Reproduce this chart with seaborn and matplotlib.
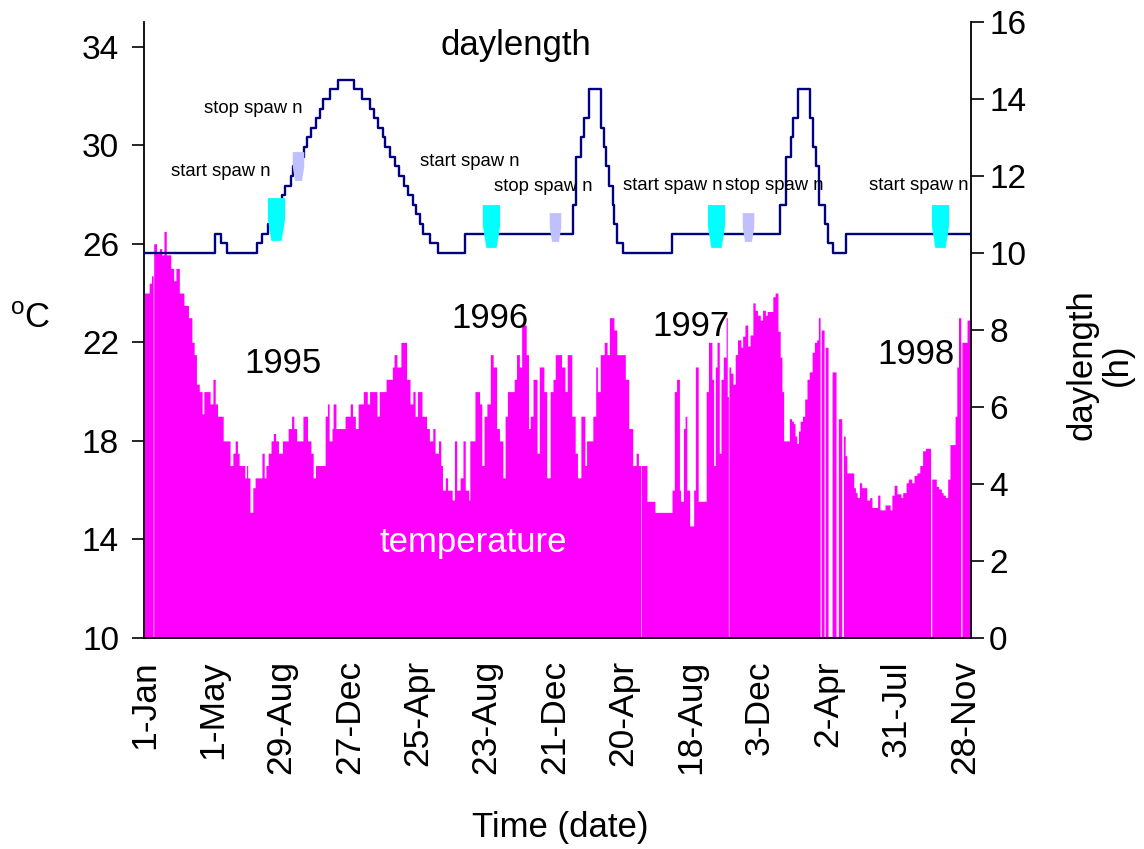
import numpy as np
import pandas as pd
import matplotlib
matplotlib.use("Agg")
import matplotlib.pyplot as plt
from matplotlib.path import Path
import seaborn as sns

# ---------------------------------------------------------------------------
# Water temperature (degC), stored as runs: first day index of each run and
# the temperature held from that day on (0 = no record for that day).
# ---------------------------------------------------------------------------
temp_run_start = [
    # 1995
    0, 9, 13, 16, 17, 22, 27, 31, 35, 39, 47, 52, 56, 62, 70, 78, 84, 88, 92,
    97, 102, 105, 116, 121, 125, 129, 139, 151, 156, 160, 164, 167, 177, 180,
    182, 186, 191, 195, 207, 211, 214, 218, 223, 227, 231, 236, 243, 253, 259,
    263, 268, 279, 287, 293, 297, 301, 318, 322, 325, 330, 332, 337, 353,
    # 1996
    362, 366, 371, 376, 385, 392, 396, 409, 413, 425, 436, 439, 444, 451, 461,
    467, 472, 476, 480, 488, 496, 501, 507, 511, 517, 521, 524, 529, 533, 541,
    545, 549, 555, 560, 564, 570, 572, 581, 589, 593, 597, 602, 608, 613, 619,
    624, 630, 634, 638, 650, 654, 659, 663, 671, 675, 678, 683, 690, 694, 702,
    707, 713, 718,
    # 1997
    722, 733, 739, 743, 751, 757, 761, 767, 774, 777, 788, 793, 796, 801, 808,
    813, 817, 825, 830, 845, 851, 858, 864, 868, 872, 873, 883, 897, 927, 931,
    935, 940, 942, 947, 950, 953, 958, 965, 968, 973, 987, 991, 997, 1000,
    1003, 1006, 1010, 1013, 1017, 1022, 1024, 1026, 1027, 1030, 1034, 1038,
    1042, 1048, 1051, 1055, 1060, 1064, 1069, 1073, 1077,
    # 1998
    1082, 1086, 1091, 1094, 1104, 1108, 1113, 1117, 1120, 1123, 1133, 1137,
    1140, 1143, 1146, 1149, 1152, 1156, 1160, 1164, 1168, 1173, 1177, 1181,
    1184, 1187, 1189, 1194, 1196, 1201, 1208, 1215, 1219, 1225, 1228,
    1231, 1234, 1246, 1249, 1252, 1256, 1260, 1269, 1274, 1278, 1288, 1292,
    1301, 1310, 1313, 1317, 1322, 1329, 1332, 1338, 1342, 1348, 1352, 1357,
    1362, 1367, 1372, 1381, 1383, 1391, 1395, 1400, 1403, 1407, 1411, 1415,
    1424, 1427, 1430, 1434, 1436, 1445,
]
temp_c = [
    # 1995
    24.0, 24.4, 24.7, 0, 26.0, 25.6, 25.8, 25.55, 26.5, 25.55, 25.0, 24.5,
    25.0, 24.0, 23.5, 23.0, 22.0, 21.5, 20.3, 20.0, 19.1, 20.0, 19.5, 20.5,
    19.5, 19.0, 18.0, 17.0, 17.5, 18.0, 17.5, 17.0, 16.5, 17.0, 16.5, 15.1,
    16.1, 16.5, 17.5, 16.5, 17.0, 17.5, 18.0, 18.3, 18.0, 17.5, 18.0, 18.5,
    19.0, 18.5, 18.0, 19.0, 18.0, 17.5, 16.5, 17.0, 19.0, 19.5, 18.0, 18.5,
    19.5, 18.5, 19.0,
    # 1996
    19.5, 19.0, 18.5, 19.5, 20.0, 19.5, 20.0, 19.0, 20.0, 20.5, 21.0, 21.5,
    21.0, 22.0, 20.5, 19.5, 20.0, 19.0, 20.0, 19.0, 18.5, 18.0, 18.5, 17.5,
    18.0, 17.0, 16.0, 16.5, 16.0, 15.6, 18.0, 16.0, 16.5, 18.0, 16.0, 15.6,
    18.0, 20.0, 19.5, 17.0, 19.0, 19.5, 21.5, 21.0, 18.5, 18.0, 16.5, 19.0,
    20.0, 20.5, 21.5, 21.0, 22.7, 21.5, 18.5, 19.0, 20.5, 17.5, 21.0, 20.0,
    16.5, 20.0, 20.5,
    # 1997
    21.5, 21.0, 20.0, 21.5, 19.0, 17.5, 16.5, 19.0, 17.0, 18.0, 19.0, 21.0,
    20.0, 21.5, 22.0, 21.5, 23.0, 22.5, 21.5, 20.5, 18.5, 17.0, 17.5, 17.0,
    0, 17.0, 15.55, 15.1, 16.0, 20.0, 20.5, 16.0, 15.55, 18.5, 19.0, 16.0,
    14.55, 16.0, 21.0, 15.55, 20.0, 22.0, 20.5, 17.0, 21.0, 22.0, 17.5, 20.5,
    21.4, 23.0, 19.8, 0, 21.0, 20.75, 20.3, 21.5, 22.1, 21.8, 22.25, 22.7,
    21.85, 22.3, 23.6, 23.3, 23.1,
    # 1998
    22.9, 23.3, 23.1, 23.25, 23.85, 24.0, 22.45, 21.4, 20.0, 18.0, 18.9,
    18.8, 18.7, 18.2, 17.9, 18.4, 18.8, 19.0, 19.7, 20.5, 20.8, 21.6, 22.0,
    22.1, 23.0, 0, 22.5, 0, 21.8, 0, 20.8, 0, 18.9, 0, 18.2,
    17.4, 16.7, 16.1, 15.9, 15.7, 16.3, 16.1, 15.6, 15.7, 15.3, 15.8, 15.2,
    15.4, 15.2, 15.8, 16.2, 15.85, 15.7, 15.9, 16.3, 16.45, 16.3, 16.6, 16.7,
    17.0, 17.6, 17.7, 0, 16.45, 16.15, 16.05, 15.9, 15.8, 15.7, 16.45, 17.85,
    19.0, 21.0, 23.0, 0, 22.0, 22.9,
]
n_days = 1452

# Photoperiod regime (hours of light): first day of each step and its length
light_run_start = [
    0, 124, 135, 146, 198, 208, 217, 224, 232, 242, 248, 258, 262, 271, 280,
    286, 294, 302, 309, 315, 326, 340, 369, 382, 396, 403, 410, 420, 423, 432,
    440, 447, 457, 464, 473, 478, 484, 489, 502, 517, 564, 753, 759, 767, 773,
    782, 803, 807, 811, 817, 823, 826, 831, 841, 927, 1117, 1128, 1136, 1139,
    1149, 1169, 1175, 1179, 1185, 1195, 1201, 1209, 1233,
]
light_h = [
    10.0, 10.5, 10.25, 10.0, 10.25, 10.5, 10.75, 11.0, 11.25, 11.5, 11.75,
    12.0, 12.25, 12.5, 12.75, 13.0, 13.25, 13.5, 13.75, 14.0, 14.25, 14.5,
    14.25, 14.0, 13.75, 13.5, 13.25, 13.0, 12.75, 12.5, 12.25, 12.0, 11.75,
    11.5, 11.25, 11.0, 10.75, 10.5, 10.25, 10.0, 10.5, 11.25, 12.5, 13.0,
    13.5, 14.25, 13.25, 12.75, 12.25, 11.75, 11.25, 10.75, 10.25, 10.0, 10.5,
    11.25, 12.5, 13.0, 13.5, 14.25, 13.5, 12.75, 12.25, 11.25, 10.75,
    10.25, 10.0, 10.5,
]

# Spawning events (day index, marker level on the daylength axis)
start_spawn_day = [232, 609, 1005, 1397]
start_spawn_level = [10.89, 10.71, 10.71, 10.71]
stop_spawn_day = [270, 721, 1060]
stop_spawn_level = [12.27, 10.67, 10.67]

# Event captions (left edge day, baseline level in hours)
start_caption_day = [47, 484, 841, 1272]
start_caption_level = [12.01, 12.27, 11.64, 11.64]
stop_caption_day = [105, 614, 1020]
stop_caption_level = [13.63, 11.62, 11.64]

# Year captions (left edge day, baseline temperature)
years = ["1995", "1996", "1997", "1998"]
year_day = [176, 539, 893, 1288]
year_temp = [20.74, 22.58, 22.27, 21.12]

# Date axis
tick_days = [0, 120, 240, 360, 480, 600, 720, 840, 960, 1080, 1200, 1320, 1440]
tick_labels = ["1-Jan", "1-May", "29-Aug", "27-Dec", "25-Apr", "23-Aug",
               "21-Dec", "20-Apr", "18-Aug", "3-Dec", "2-Apr", "31-Jul",
               "28-Nov"]

assert len(temp_run_start) == len(temp_c)
assert len(light_run_start) == len(light_h)

# ---------------------------------------------------------------------------
sns.set_style("white")
plt.rcParams["font.family"] = ["Liberation Sans", "DejaVu Sans"]
plt.rcParams["mathtext.default"] = "regular"
for key in ["text.color", "axes.labelcolor", "xtick.color", "ytick.color",
            "axes.edgecolor"]:
    plt.rcParams[key] = "black"

temp_edges = [float(v) for v in temp_run_start] + [float(n_days)]
temp_df = pd.DataFrame({
    "day": [(a + b) / 2.0 for a, b in zip(temp_edges[:-1], temp_edges[1:])],
    "temp": temp_c,
})
light_df = pd.DataFrame({
    "day": light_run_start + [n_days],
    "hours": light_h + [light_h[-1]],
})
start_df = pd.DataFrame({"day": start_spawn_day, "hours": start_spawn_level})
stop_df = pd.DataFrame({"day": stop_spawn_day, "hours": stop_spawn_level})

fig = plt.figure(figsize=(11.44, 8.49), dpi=100)
ax = fig.add_axes([0.1259, 0.2485, 0.7229, 0.7256])

MAGENTA = "#FF00FF"
NAVY = "#000080"

# Temperature as contiguous daily bars (one step per run of equal values)
sns.histplot(data=temp_df, x="day", weights="temp", bins=temp_edges,
             element="step", fill=True, color=MAGENTA, alpha=1.0,
             linewidth=0, ax=ax)

ax.set_xlim(0, n_days)
ax.set_ylim(10, 35)
ax.set_yticks([10, 14, 18, 22, 26, 30, 34])
ax.set_xticks([d + 0.5 for d in tick_days])
ax.set_xticklabels(tick_labels, rotation=90, ha="center", va="top")
ax.set_xlabel("")
ax.set_ylabel("")
ax.tick_params(axis="y", direction="out", length=9, width=1.2,
               labelsize=24, pad=9, colors="black")
ax.tick_params(axis="x", length=0, labelsize=25.5, pad=16, colors="black")
for side in ["top", "right"]:
    ax.spines[side].set_visible(False)
for side in ["left", "bottom"]:
    ax.spines[side].set_color("black")
    ax.spines[side].set_linewidth(1.3)

for label, d, t in zip(years, year_day, year_temp):
    ax.text(d, t, label, fontsize=25, ha="left", va="baseline", color="black")
ax.text(414, 13.5, "temperature", fontsize=25, ha="left", va="baseline",
        color="white")

# Daylength on the secondary axis
ax2 = ax.twinx()
sns.lineplot(data=light_df, x="day", y="hours", drawstyle="steps-post",
             color=NAVY, linewidth=1.7, ax=ax2)

# Spawning markers: a flat-topped cup shape
cup = Path([(-0.40, 1.0), (0.40, 1.0), (0.40, 0.0), (0.24, -1.0),
            (-0.24, -1.0), (-0.40, 0.0), (-0.40, 1.0)],
           [Path.MOVETO] + [Path.LINETO] * 5 + [Path.CLOSEPOLY])
sns.scatterplot(data=start_df, x="day", y="hours", marker=cup, s=950,
                color="#00FFFF", linewidth=0, ax=ax2, zorder=5)
sns.scatterplot(data=stop_df, x="day", y="hours", marker=cup, s=430,
                color="#C0C0FF", linewidth=0, ax=ax2, zorder=5)

for d, h in zip(start_caption_day, start_caption_level):
    ax2.text(d, h, "start spaw n", fontsize=13.3, ha="left", va="baseline",
             color="black")
for d, h in zip(stop_caption_day, stop_caption_level):
    ax2.text(d, h, "stop spaw n", fontsize=13.3, ha="left", va="baseline",
             color="black")
ax2.text(520, 15.14, "daylength", fontsize=25, ha="left", va="baseline",
         color="black")

ax2.set_xlim(0, n_days)
ax2.set_ylim(0, 16)
ax2.set_yticks(range(0, 17, 2))
ax2.set_xlabel("")
ax2.set_ylabel("")
ax2.tick_params(axis="y", direction="out", length=9, width=1.2,
                labelsize=24, pad=4, colors="black")
for side in ["top", "left", "bottom"]:
    ax2.spines[side].set_visible(False)
ax2.spines["right"].set_color("black")
ax2.spines["right"].set_linewidth(1.3)

fig.text(30 / 1144, 1 - 318 / 849, "$^{o}$C", fontsize=25,
         ha="center", va="center", color="black")
fig.text(560 / 1144, 1 - 828 / 849, "Time (date)", fontsize=25,
         ha="center", va="center", color="black")
fig.text(1100 / 1144, 1 - 365 / 849, "daylength\n(h)", fontsize=25,
         ha="center", va="center", rotation=90, multialignment="center",
         linespacing=1.1, color="black")

fig.savefig("out.png", dpi=100)
